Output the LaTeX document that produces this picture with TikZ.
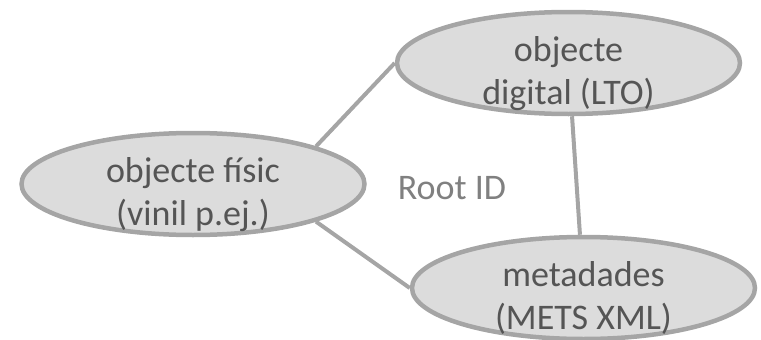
\documentclass[tikz,border=0pt]{standalone}
\usepackage{fontspec}
\setmainfont{Carlito}
\usetikzlibrary{positioning, shapes.geometric}
\definecolor{ellfill}{HTML}{DCDCDC}
\definecolor{ellline}{HTML}{A5A5A5}
\definecolor{txtgray}{HTML}{555555}
\definecolor{lblgray}{HTML}{808080}
% two centred lines, set a little below the middle of the ellipse
\newcommand{\objtext}[2]{\raisebox{-18pt}[30pt][30pt]{\begin{tabular}{@{}c@{}}#1\\#2\end{tabular}}}
\tikzset{
    obj/.style={
        ellipse, draw=ellline, fill=ellfill, line width=4.5pt,
        minimum width=343pt, minimum height=102pt, inner sep=0pt,
        font=\fontsize{36}{43}\selectfont, text=txtgray, align=center
    },
    link/.style={draw=ellline, line width=4pt},
    lbl/.style={font=\fontsize{36}{43}\selectfont, text=lblgray}
}

\begin{document}
\begin{tikzpicture}[x=1pt, y=1pt]
    \useasboundingbox (0,0) rectangle (761,-340);
    \node[obj] (fisic) at (193,-184) {\objtext{objecte físic}{(vinil p.ej.)}};
    \node[obj, right=28pt of fisic, yshift=121pt] (digital) {\objtext{objecte}{digital (LTO)}};
    \node[obj, below=118.5pt of digital, xshift=15pt] (meta) {\objtext{metadades}{(METS XML)}};
    \node[lbl] (rootid) at (452,-188) {Root ID};

    \draw[link] (fisic.17) -- (digital.west);
    \draw[link] (fisic.-17) -- (meta.west);
    \draw[link] (digital) -- (meta);
\end{tikzpicture}
\end{document}
